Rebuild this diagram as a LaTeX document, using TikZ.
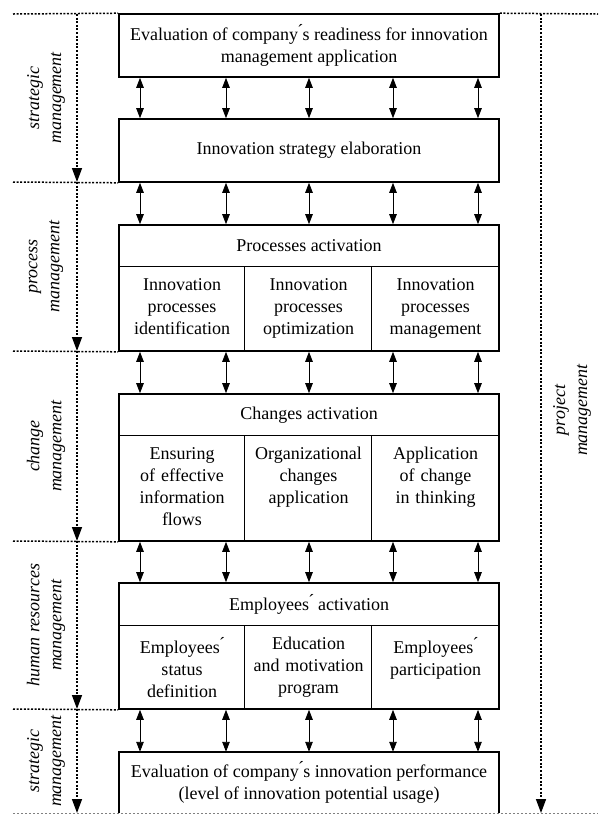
\documentclass[tikz,border=0pt]{standalone}
\usepackage{fontspec}
\setmainfont{Liberation Serif}
\usetikzlibrary{arrows.meta}
\begin{document}
\begin{tikzpicture}[x=1pt,y=-1pt,
  font=\fontsize{18}{22}\selectfont,
  box/.style={draw, line width=1.6pt, minimum width=380pt, inner sep=0pt, align=center},
  plainbox/.style={minimum width=380pt, inner sep=0pt, align=center},
  cell/.style={anchor=north, text width=124pt, inner sep=0pt, align=center},
  divider/.style={line width=0.8pt},
  link/.style={line width=0.9pt, {Triangle[length=10pt,width=7.5pt]}-{Triangle[length=10pt,width=7.5pt]}},
  sepline/.style={line width=1.5pt, dash pattern=on 2pt off 1.6pt},
  flow/.style={sepline, -{Triangle[length=14pt,width=10pt]}},
  baseline/.style={line width=1pt, gray, dash pattern=on 2pt off 2pt},
  phase/.style={rotate=90, font=\fontsize{18}{22}\selectfont\itshape, align=center, inner sep=0pt}
]
\useasboundingbox (0,0) rectangle (598,815);

% ---- main blocks ----
\node[box, minimum height=63pt] (b1) at (309,45.5)
  {Evaluation of company\'{}s readiness for innovation\\management application};
\node[box, minimum height=63pt] (b2) at (309,150.5) {Innovation strategy elaboration};

\node[box, minimum height=126pt] (b3) at (309,288) {};
\node (h3) at (309,246) {Processes activation};
\node[cell] (c31) at (182,278) {Innovation\\processes\\identification};
\node[cell] (c32) at (308.5,278) {Innovation\\processes\\optimization};
\node[cell] (c33) at (435.5,278) {Innovation\\processes\\management};

\node[box, minimum height=147pt] (b4) at (309,467.5) {};
\node (h4) at (309,415) {Changes activation};
\node[cell] (c41) at (182,447) {Ensuring\\of effective\\information\\flows};
\node[cell] (c42) at (308.5,447) {Organizational\\changes\\application};
\node[cell] (c43) at (435.5,447) {Application\\of change\\in thinking};

\node[box, minimum height=126pt] (b5) at (309,646) {};
\node (h5) at (309,604.5) {Employees\'{} activation};
\node[cell] (c51) at (182,637) {Employees\'{}\\status\\definition};
\node[cell] (c52) at (308.5,637) {Education\\and motivation\\program};
\node[cell] (c53) at (435.5,637) {Employees\'{}\\participation};

\node[plainbox, minimum height=61pt] (b6) at (309,782.5)
  {Evaluation of company\'{}s innovation performance\\(level of innovation potential usage)};
\draw[line width=1.6pt] (b6.south west) -- (b6.north west) -- (b6.north east) -- (b6.south east);

% ---- header rules and column rules inside the activation blocks ----
\foreach \b/\h in {b3/42, b4/42, b5/43} {
  \draw[divider] ([yshift=-\h pt]\b.north west) -- ([yshift=-\h pt]\b.north east);
  \draw[divider] ([xshift=126pt,yshift=-\h pt]\b.north west) -- ([xshift=126pt]\b.south west);
  \draw[divider] ([xshift=253pt,yshift=-\h pt]\b.north west) -- ([xshift=253pt]\b.south west);
}

% ---- two-way links between consecutive blocks ----
\foreach \u/\l in {b1/b2, b2/b3, b3/b4, b4/b5, b5/b6} {
  \foreach \dx in {-169,-83,0,84,169} {
    \draw[link] ([xshift=\dx pt]\u.south) -- ([xshift=\dx pt]\l.north);
  }
}

% ---- management phase separators ----
\coordinate (s0) at (13,14);
\coordinate (s1) at (13,182);
\coordinate (s2) at (13,351);
\coordinate (s3) at (13,541);
\coordinate (s4) at (13,709);
\coordinate (s5) at (13,813);
\coordinate (e0) at (598,14);
\coordinate (e5) at (598,813);
\draw[sepline] (s0) -- (b1.north west);
\draw[sepline] (b1.north east) -- (e0);
\draw[sepline] (s1) -- (b2.south west);
\draw[sepline] (s2) -- (b3.south west);
\draw[sepline] (s3) -- (b4.south west);
\draw[sepline] (s4) -- (b5.south west);
\draw[baseline] (s5) -- (e5);

% ---- phase flow on the left ----
\coordinate (p0) at (77,14);
\coordinate (p1) at (77,182);
\coordinate (p2) at (77,351);
\coordinate (p3) at (77,541);
\coordinate (p4) at (77,709);
\coordinate (p5) at (77,813);
\draw[flow] (p0) -- (p1);
\draw[flow] (p1) -- (p2);
\draw[flow] (p2) -- (p3);
\draw[flow] (p3) -- (p4);
\draw[flow] (p4) -- (p5);

% ---- project management across the whole process ----
\coordinate (q0) at (541,14);
\coordinate (q1) at (541,813);
\draw[flow] (q0) -- (q1);

% ---- phase labels ----
\node[phase] (l1) at (46,98) {strategic\\management};
\node[phase] (l2) at (46,266.5) {process\\management};
\node[phase] (l3) at (46,446) {change\\management};
\node[phase] (l4) at (46,625) {human resources\\management};
\node[phase] (l5) at (46,761) {strategic\\management};
\node[phase] (l6) at (572,410) {project\\management};
\end{tikzpicture}
\end{document}
